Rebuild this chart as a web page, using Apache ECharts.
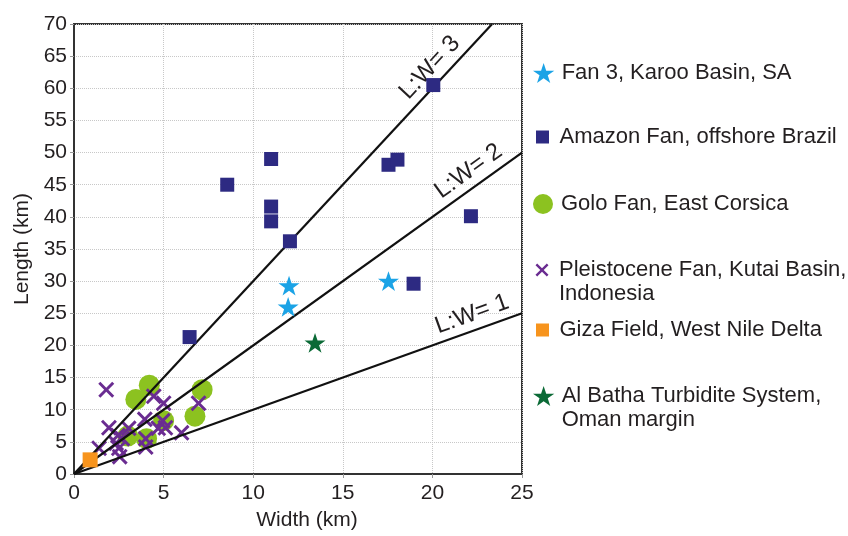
<!DOCTYPE html>
<html>
<head>
<meta charset="utf-8">
<script src="https://cdn.jsdelivr.net/npm/echarts@6/dist/echarts.min.js"></script>
<style>
  html, body { margin: 0; padding: 0; background: #fff; }
  #main { width: 848px; height: 536px; }
</style>
</head>
<body>
<div id="main"></div>
<script>
'use strict'

// values: [width km, length km]
const karooFan3 = [[12.0, 29.3], [11.95, 26.0], [17.55, 30.0]]
const amazonFan = [
    [20.05, 60.5], [11.0, 49.0], [8.55, 45.0], [11.0, 41.6], [11.0, 39.3],
    [12.05, 36.2], [17.55, 48.1], [18.05, 48.9], [22.15, 40.1], [18.95, 29.6],
    [6.45, 21.3]
]
const goloFan = [
    [4.2, 13.8], [3.45, 11.6], [7.15, 13.1], [6.75, 9.0], [5.0, 8.3],
    [3.0, 5.9], [4.05, 5.5]
]
const kutaiFan = [
    [1.8, 13.1], [4.45, 12.1], [5.0, 11.0], [6.95, 11.0], [3.95, 8.5],
    [4.95, 8.3], [5.1, 7.2], [4.7, 7.1], [6.0, 6.4], [1.95, 7.2],
    [3.05, 7.1], [2.45, 6.0], [2.7, 5.5], [2.35, 4.8], [4.0, 5.5],
    [4.0, 4.2], [2.55, 2.7], [1.4, 4.0], [2.5, 4.0]
]
const gizaField = [[0.9, 2.2]]
const alBatha = [[13.45, 20.4]]

// L:W reference lines, from origin to where they leave the plot
const lwLines = [
    { label: 'L:W= 3', end: [23.333, 70], along: 36 },
    { label: 'L:W= 2', end: [25, 50], along: 16 },
    { label: 'L:W= 1', end: [25, 25], along: 9 }
]

const xTicks = { min: 0, max: 25, interval: 5 }
const yTicks = { min: 0, max: 70, interval: 5 }

const names = [
    'Fan 3, Karoo Basin, SA',
    'Amazon Fan, offshore Brazil',
    'Golo Fan, East Corsica',
    'Pleistocene Fan, Kutai Basin, Indonesia',
    'Giza Field, West Nile Delta',
    'Al Batha Turbidite System, Oman margin'
]
// leading blank line keeps the icon level with the first text line
const legendText = [
    'Fan 3, Karoo Basin, SA',
    'Amazon Fan, offshore Brazil',
    'Golo Fan, East Corsica',
    '\nPleistocene Fan, Kutai Basin,\nIndonesia',
    'Giza Field, West Nile Delta',
    '\nAl Batha Turbidite System,\nOman margin'
]

const STAR = 'path://M50,0L61.8,35.1L98.9,35.1L68.9,56.8L80.3,91.9L50,70.2L19.7,91.9L31.1,56.8L1.1,35.1L38.2,35.1Z'
const CROSS = 'path://M1.3,0L5,3.7L8.7,0L10,1.3L6.3,5L10,8.7L8.7,10L5,6.3L1.3,10L0,8.7L3.7,5L0,1.3Z'
const SQUARE = 'path://M0,0H10V10H0Z'

const font = "'Liberation Sans', Arial, sans-serif"
const ink = '#231f20'

const eChartsContainer = document.getElementById('main')
const myChart = echarts.init(eChartsContainer, null, { renderer: 'canvas' })

function scatter(name, data, symbol, size, color, z) {
    return {
        name: name,
        type: 'scatter',
        data: data,
        symbol: symbol,
        symbolSize: size,
        symbolKeepAspect: true,
        itemStyle: { color: color, opacity: 1 },
        z: z,
        silent: true
    }
}

function oneLegend(i, icon, w, h, left, top) {
    return {
        data: [{ name: names[i], icon: icon }],
        formatter: () => legendText[i],
        orient: 'vertical',
        left: left,
        top: top,
        padding: 0,
        itemWidth: w,
        itemHeight: h,
        selectedMode: false,
        textStyle: {
            fontFamily: font,
            fontSize: 22,
            color: ink,
            lineHeight: 24
        }
    }
}

const option = {
    animation: false,
    backgroundColor: '#fff',
    grid: {
        left: 74,
        right: 326,
        top: 24,
        bottom: 58,
        show: true,
        borderColor: '#333',
        borderWidth: 2,
        backgroundColor: 'transparent'
    },
    legend: [
        oneLegend(0, STAR, 26, 20, 533, 61),
        oneLegend(1, SQUARE, 24, 13, 536, 125),
        oneLegend(2, 'circle', 26, 20, 533, 192),
        oneLegend(3, CROSS, 24, 13, 535.5, 234),
        oneLegend(4, SQUARE, 24, 13, 536, 318),
        oneLegend(5, STAR, 26, 20, 533, 360)
    ],
    xAxis: {
        type: 'value',
        min: xTicks.min,
        max: xTicks.max,
        interval: xTicks.interval,
        name: 'Width (km)',
        nameLocation: 'middle',
        nameGap: 36,
        nameTextStyle: { fontFamily: font, fontSize: 21, color: ink, padding: [0, 0, 0, 18] },
        axisLine: { show: true, lineStyle: { color: '#333', width: 2 } },
        axisTick: { show: true, length: 4, lineStyle: { color: '#999' } },
        axisLabel: { fontFamily: font, fontSize: 21, color: ink, margin: 9 },
        splitLine: { show: true, lineStyle: { color: '#c8c8c8', type: 'dotted', width: 1 } }
    },
    yAxis: {
        type: 'value',
        min: yTicks.min,
        max: yTicks.max,
        interval: yTicks.interval,
        name: 'Length (km)',
        nameLocation: 'middle',
        nameGap: 40,
        nameTextStyle: { fontFamily: font, fontSize: 21, color: ink },
        axisLine: { show: true, lineStyle: { color: '#333', width: 2 } },
        axisTick: { show: true, length: 4, lineStyle: { color: '#999' } },
        axisLabel: { fontFamily: font, fontSize: 21, color: ink, margin: 7 },
        splitLine: { show: true, lineStyle: { color: '#c8c8c8', type: 'dotted', width: 1 } }
    },
    series: [
        scatter(names[2], goloFan, 'circle', 21, '#8cc220', 2),
        {
            name: 'L:W',
            type: 'line',
            data: [],
            z: 3,
            silent: true,
            markLine: {
                silent: true,
                symbol: 'none',
                animation: false,
                lineStyle: { color: '#111', width: 2.2, type: 'solid' },
                label: {
                    show: true,
                    position: 'insideEndTop',
                    fontFamily: font,
                    fontSize: 24,
                    color: ink
                },
                data: lwLines.map(l => [
                    { coord: [0, 0], label: { formatter: l.label, distance: [l.along, 4] } },
                    { coord: l.end }
                ])
            }
        },
        scatter(names[3], kutaiFan, CROSS, 16, '#6a2c91', 4),
        scatter(names[1], amazonFan, SQUARE, 14, '#2d2a82', 5),
        scatter(names[4], gizaField, SQUARE, 15, '#f7941d', 5),
        scatter(names[0], karooFan3, STAR, 21, '#1ba3e6', 6),
        scatter(names[5], alBatha, STAR, 21, '#0b6a36', 6)
    ]
}

myChart.setOption(option)
</script>
</body>
</html>
